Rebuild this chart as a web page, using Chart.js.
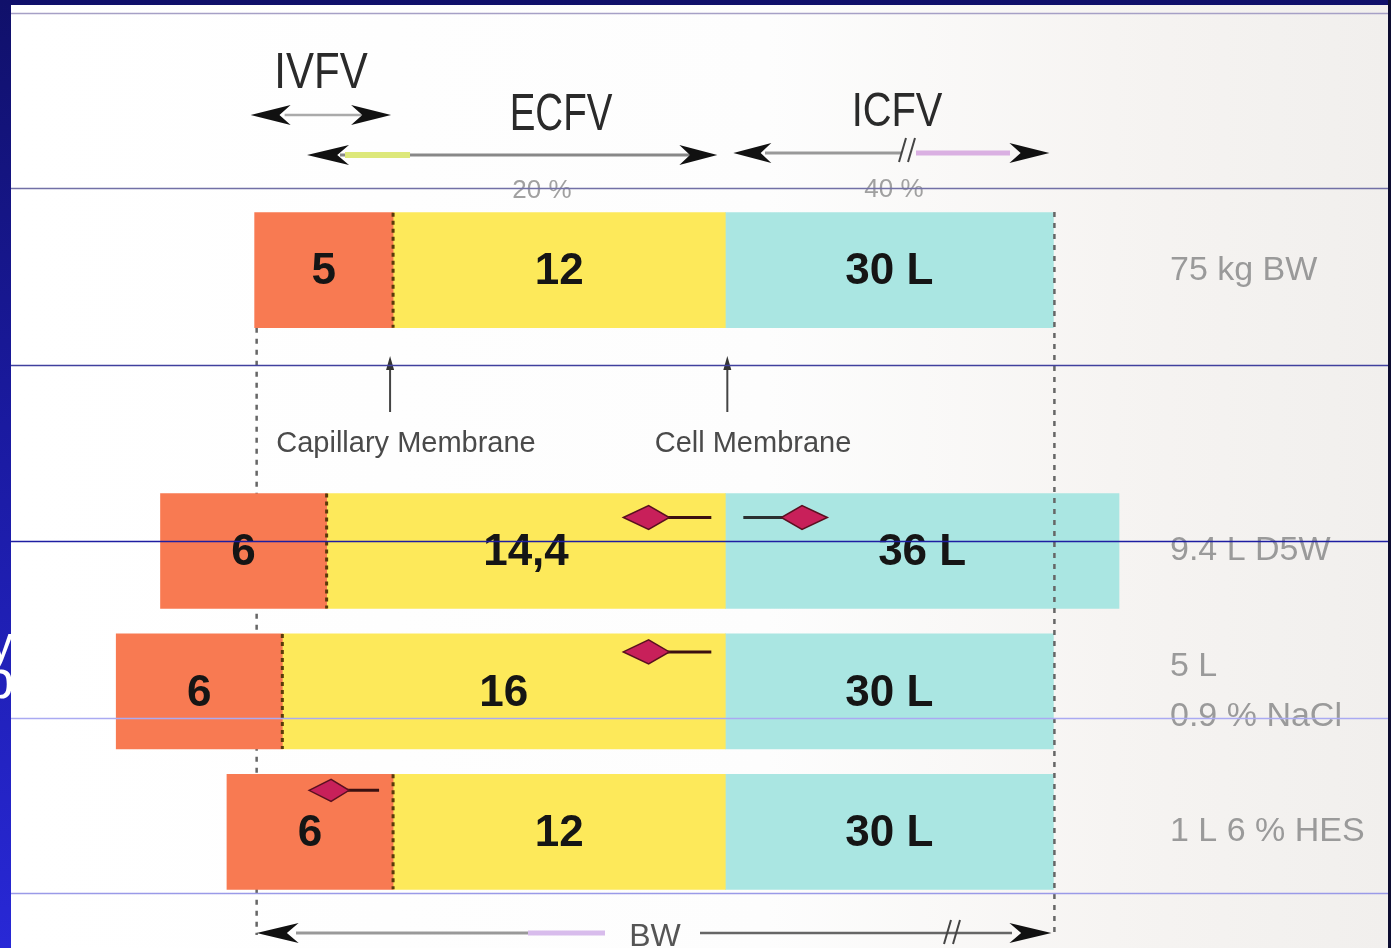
<!DOCTYPE html>
<html>
<head>
<meta charset="utf-8">
<script src="https://cdn.jsdelivr.net/npm/chart.js@4.4.1/dist/chart.umd.min.js"></script>
<style>
  html, body { margin: 0; padding: 0; width: 1391px; height: 948px; overflow: hidden;
    background: linear-gradient(#10106a 0%, #1a1aa0 45%, #2828d6 100%); }
  #scan { position: absolute; left: 11px; top: 5px; width: 1377px; height: 943px;
    background: linear-gradient(90deg, #ffffff 0%, #fdfdfd 55%, #f6f4f2 80%, #f1efed 100%); }
  #edge { position: absolute; left: 1388px; top: 0; width: 3px; height: 948px; background: #0c0c30; }
  canvas { position: absolute; left: 0; top: 0; }
</style>
</head>
<body>
<div id="scan"></div>
<div id="edge"></div>
<canvas id="chart" width="1391" height="948"></canvas>
<script>
// rows of the diagram (second row is the gap with the membrane labels)
const rows = ['75 kg BW', '', '9.4 L D5W', ['5 L', '0.9 % NaCl'], '1 L 6 % HES'];
// litres per compartment
const ivfv = [5, null, 6, 6, 6];
const isfv = [12, null, 14.4, 16, 12];
const icfv = [30, null, 36, 30, 30];
// water shift arrows per row
const shifts = [[], [], ['toECF', 'toICF'], ['toECF'], ['toIVF']];

const ICF_SCALE = 0.395; // ICF drawn on the broken (//) part of the axis
const FONT = "'Liberation Sans', Arial, sans-serif";

const fmt = v => String(v).replace('.', ',');
const left = el => Math.min(el.x, el.base);
const right = el => Math.max(el.x, el.base);

function head(ctx, tipX, y, dir, len, half, color) {
  ctx.beginPath();
  ctx.moveTo(tipX, y);
  ctx.lineTo(tipX - dir * len, y - half);
  ctx.lineTo(tipX - dir * len * 0.72, y);
  ctx.lineTo(tipX - dir * len, y + half);
  ctx.closePath();
  ctx.fillStyle = color;
  ctx.fill();
}

function kite(ctx, tipX, y, dir, len, half) {
  ctx.beginPath();
  ctx.moveTo(tipX, y);
  ctx.lineTo(tipX - dir * len * 0.55, y - half);
  ctx.lineTo(tipX - dir * len, y);
  ctx.lineTo(tipX - dir * len * 0.55, y + half);
  ctx.closePath();
  ctx.fillStyle = '#c8205a';
  ctx.fill();
  ctx.strokeStyle = '#5a1020';
  ctx.lineWidth = 1.5;
  ctx.stroke();
}

function line(ctx, x1, y1, x2, y2, color, w, dash) {
  ctx.save();
  ctx.beginPath();
  ctx.setLineDash(dash || []);
  ctx.moveTo(x1, y1);
  ctx.lineTo(x2, y2);
  ctx.strokeStyle = color;
  ctx.lineWidth = w;
  ctx.stroke();
  ctx.restore();
}

function breakMark(ctx, x, y) {
  line(ctx, x - 6, y + 12, x + 1, y - 12, '#444', 2);
  line(ctx, x + 3, y + 12, x + 10, y - 12, '#444', 2);
}

function narrowText(ctx, text, cx, y, size, sx, color) {
  ctx.save();
  ctx.translate(cx, y);
  ctx.scale(sx, 1);
  ctx.font = size + 'px ' + FONT;
  ctx.fillStyle = color;
  ctx.textAlign = 'center';
  ctx.textBaseline = 'alphabetic';
  ctx.fillText(text, 0, 0);
  ctx.restore();
}

const decor = {
  id: 'decor',
  beforeDraw(chart) {
    // bits of the slide text showing at the left edge
    const ctx = chart.ctx;
    ctx.save();
    ctx.beginPath();
    ctx.rect(0, 0, 11, 948);
    ctx.clip();
    ctx.fillStyle = '#ffffff';
    ctx.textAlign = 'right';
    ctx.font = '48px ' + FONT;
    ctx.fillText('y', 13, 660);
    ctx.font = '54px ' + FONT;
    ctx.fillText('b', 14, 698);
    ctx.restore();
  },
  beforeDatasetsDraw(chart) {
    const ctx = chart.ctx;
    const bar = chart.getDatasetMeta(0).data[0];
    const xl = left(bar) + 2;
    line(ctx, xl, bar.y + bar.height / 2, xl, 935, '#666', 2.5, [5, 6]);
  },
  afterDatasetsDraw(chart) {
    const ctx = chart.ctx, xs = chart.scales.x;
    const x0 = xs.getPixelForValue(0);
    const metas = [0, 1, 2].map(i => chart.getDatasetMeta(i));

    // red / yellow boundary (capillary membrane)
    metas[0].data.forEach((el, j) => {
      if (ivfv[j] == null) return;
      const x = right(el);
      line(ctx, x, el.y - el.height / 2, x, el.y + el.height / 2, '#5b3a0a', 3, [4, 4]);
    });

    // values inside the bars
    ctx.font = 'bold 44px ' + FONT;
    ctx.fillStyle = '#151515';
    ctx.textAlign = 'center';
    ctx.textBaseline = 'middle';
    metas.forEach((meta, d) => {
      meta.data.forEach((el, j) => {
        if (ivfv[j] == null) return;
        const txt = d === 0 ? String(ivfv[j]) : d === 1 ? fmt(isfv[j]) : icfv[j] + ' L';
        ctx.fillText(txt, (el.x + el.base) / 2, el.y + 2);
      });
    });

    // water shift arrows
    shifts.forEach((list, j) => {
      list.forEach(kind => {
        const el = metas[0].data[j];
        const top = el.y - el.height / 2;
        if (kind === 'toECF') {
          const y = top + (j === 2 ? 24 : 18);
          line(ctx, x0 - 14, y, x0 - 90, y, '#3a1010', 3);
          kite(ctx, x0 - 102, y, -1, 46, 12);
        } else if (kind === 'toICF') {
          const y = top + 24;
          line(ctx, x0 + 18, y, x0 + 80, y, '#2a3030', 3);
          kite(ctx, x0 + 102, y, 1, 46, 12);
        } else {
          const y = top + 16;
          const xc = right(el);
          line(ctx, xc - 14, y, xc - 70, y, '#3a1010', 3);
          kite(ctx, xc - 84, y, -1, 40, 11);
        }
      });
    });

    // right dotted line (end of ICF at 75 kg)
    const xr = right(metas[2].data[0]) + 1;
    line(ctx, xr, 212, xr, 935, '#666', 2.5, [5, 6]);

    // header: IVFV / ECFV / ICFV
    narrowText(ctx, 'IVFV', 321, 88, 50, 0.84, '#2a2a2a');
    narrowText(ctx, 'ECFV', 561, 130, 52, 0.74, '#2a2a2a');
    narrowText(ctx, 'ICFV', 897, 126, 48, 0.83, '#2a2a2a');

    const xIvL = left(metas[0].data[0]);
    const xIvR = right(metas[0].data[0]);
    line(ctx, xIvL + 30, 115, xIvR - 30, 115, '#aaa', 2.5);
    head(ctx, xIvL - 4, 115, -1, 40, 10, '#111');
    head(ctx, xIvR - 2, 115, 1, 40, 10, '#111');

    line(ctx, 340, 155, 690, 155, '#888', 3);
    line(ctx, 345, 155, 410, 155, '#dde87a', 6);
    head(ctx, 307, 155, -1, 42, 10, '#111');
    head(ctx, x0 - 8, 155, 1, 38, 10, '#111');

    line(ctx, 765, 153, 902, 153, '#999', 3);
    line(ctx, 916, 153, 1010, 153, '#dab0e2', 5);
    breakMark(ctx, 905, 150);
    head(ctx, x0 + 8, 153, -1, 38, 10, '#111');
    head(ctx, xr - 5, 153, 1, 40, 10, '#111');

    ctx.font = '26px ' + FONT;
    ctx.fillStyle = '#a0a0a0';
    ctx.textBaseline = 'alphabetic';
    ctx.fillText('20 %', 542, 198);
    ctx.fillText('40 %', 894, 197);

    // membranes
    const xCap = xIvR - 3;
    [xCap, x0 + 2].forEach(x => {
      line(ctx, x, 368, x, 412, '#444', 2);
      ctx.beginPath();
      ctx.moveTo(x, 356);
      ctx.lineTo(x - 4, 370);
      ctx.lineTo(x + 4, 370);
      ctx.closePath();
      ctx.fillStyle = '#333';
      ctx.fill();
    });
    ctx.font = '29px ' + FONT;
    ctx.fillStyle = '#4a4a4a';
    ctx.fillText('Capillary Membrane', 406, 452);
    ctx.fillText('Cell Membrane', 753, 452);

    // body weight arrow at the bottom
    line(ctx, 296, 933, 605, 933, '#999', 3);
    line(ctx, 528, 933, 605, 933, '#d8bcec', 5);
    line(ctx, 700, 933, 1012, 933, '#666', 2.5);
    breakMark(ctx, 950, 932);
    head(ctx, xIvL + 2, 933, -1, 42, 10, '#111');
    head(ctx, xr - 3, 933, 1, 42, 10, '#111');
    ctx.font = '32px ' + FONT;
    ctx.fillStyle = '#555';
    ctx.fillText('BW', 655, 946);
  },
  afterDraw(chart) {
    // slide guide lines lying over the scan
    const ctx = chart.ctx;
    [[13, '#a6a0c6'], [188, '#7270a6'], [365, '#40409e'], [541, '#1e1ea2'],
     [718, '#aaaaf2'], [893, '#9a9ae8']].forEach(([y, c]) => line(ctx, 11, y + 0.5, 1388, y + 0.5, c, 1.5));
  }
};

const toRange = (a, b) => (a == null || b == null ? null : [a, b]);

new Chart(document.getElementById('chart'), {
  type: 'bar',
  data: {
    labels: rows,
    datasets: [
      { label: 'IVFV', data: ivfv.map((v, i) => toRange(v == null ? null : -(v + isfv[i]), v == null ? null : -isfv[i])),
        backgroundColor: '#f87a52' },
      { label: 'ISFV', data: isfv.map(v => toRange(v == null ? null : -v, v == null ? null : 0)),
        backgroundColor: '#fde95a' },
      { label: 'ICFV', data: icfv.map(v => toRange(v == null ? null : 0, v == null ? null : v * ICF_SCALE)),
        backgroundColor: '#aae6e2' }
    ]
  },
  options: {
    indexAxis: 'y',
    responsive: false,
    animation: false,
    layout: { padding: { left: 11, top: 200, bottom: 46, right: 0 } },
    datasets: { bar: { grouped: false, barThickness: 115, borderWidth: 0, borderSkipped: false } },
    plugins: { legend: { display: false }, tooltip: { enabled: false } },
    scales: {
      x: { type: 'linear', min: -25.8, max: 15.7, display: false },
      y: {
        type: 'category',
        position: 'right',
        offset: true,
        grid: { display: false, drawTicks: false },
        border: { display: false },
        afterFit(scale) { scale.width = 231; },
        ticks: {
          autoSkip: false,
          padding: 10,
          color: '#9a9a9a',
          font: { family: FONT, size: 34, lineHeight: 1.47 }
        }
      }
    }
  },
  plugins: [decor]
});
</script>
</body>
</html>
